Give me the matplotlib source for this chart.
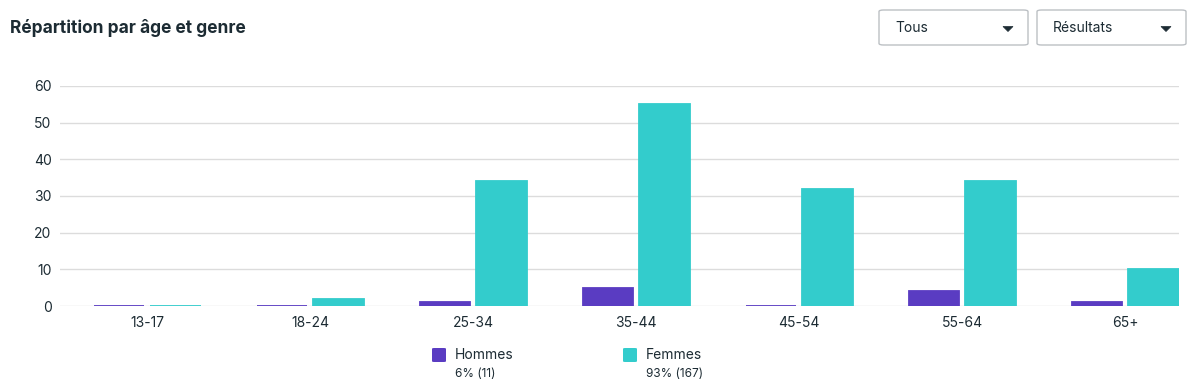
import numpy as np
import matplotlib
matplotlib.use('Agg')
import matplotlib.pyplot as plt
from matplotlib.patches import FancyBboxPatch, Polygon

# data
age_groups = ['13-17', '18-24', '25-34', '35-44', '45-54', '55-64', '65+']
hommes = [0, 0, 1, 5, 0, 4, 1]
femmes = [0, 2, 34, 55, 32, 34, 10]
legend_labels = ['Hommes', 'Femmes']
legend_details = ['6% (11)', '93% (167)']
yticks = [0, 10, 20, 30, 40, 50, 60]

PURPLE = '#5a3cc2'
TEAL = '#33cccc'
TEXT = '#1c2b33'
W, H = 1200, 387

plt.rcParams['font.family'] = ['Inter', 'DejaVu Sans']

fig = plt.figure(figsize=(12, 3.87), dpi=100)
ax = fig.add_axes([0.05, 0.2093, 0.9325, 0.5685])

x = np.arange(len(age_groups))
w = 0.31
off = 0.173
ax.bar(x - off, hommes, w, color=PURPLE, edgecolor=PURPLE, linewidth=1.3, zorder=3)
ax.bar(x + off, femmes, w, color=TEAL, edgecolor=TEAL, linewidth=1.3, zorder=3)

ax.set_xlim(-0.534, 6.33)
ax.set_ylim(0, 60)
ax.set_yticks(yticks)
ax.set_xticks(x)
ax.set_xticklabels(age_groups)
ax.yaxis.grid(True, color='#dcdcdc', linewidth=1)
ax.set_axisbelow(True)
for s in ax.spines.values():
    s.set_visible(False)
ax.tick_params(axis='both', length=0, labelsize=10, labelcolor=TEXT)
ax.tick_params(axis='y', pad=6)
ax.tick_params(axis='x', pad=7)

# title
fig.text(10 / W, 1 - 28 / H, 'Répartition par âge et genre', fontsize=12.5,
         fontweight='bold', color=TEXT, va='center', ha='left')

# dropdown boxes
for x0, x1, label in [(879, 1028, 'Tous'), (1037, 1186, 'Résultats')]:
    box = FancyBboxPatch((x0 / W, 1 - 45 / H), (x1 - x0) / W, 35 / H,
                         boxstyle='round,pad=0,rounding_size=0.004',
                         transform=fig.transFigure, facecolor='white',
                         edgecolor='#bcc0c4', linewidth=1)
    fig.patches.append(box)
    fig.text((x0 + 16) / W, 1 - 28 / H, label, fontsize=10, color=TEXT,
             va='center', ha='left')
    cx = x1 - 20
    tri = Polygon([((cx - 5) / W, 1 - 26.5 / H), ((cx + 5) / W, 1 - 26.5 / H),
                   (cx / W, 1 - 31.5 / H)], closed=True,
                  transform=fig.transFigure, facecolor=TEXT, edgecolor=TEXT, linewidth=0.5)
    fig.patches.append(tri)

# legend
for lx, color, name, detail in zip([432, 623], [PURPLE, TEAL], legend_labels, legend_details):
    sq = FancyBboxPatch((lx / W, 1 - 362 / H), 14 / W, 14 / H,
                        boxstyle='round,pad=0,rounding_size=0.002',
                        transform=fig.transFigure, facecolor=color, edgecolor='none')
    fig.patches.append(sq)
    fig.text((lx + 23) / W, 1 - 355 / H, name, fontsize=10, color=TEXT,
             va='center', ha='left')
    fig.text((lx + 23) / W, 1 - 374 / H, detail, fontsize=8.5, color=TEXT,
             va='center', ha='left')

fig.savefig('out.png', dpi=100, facecolor='white')
